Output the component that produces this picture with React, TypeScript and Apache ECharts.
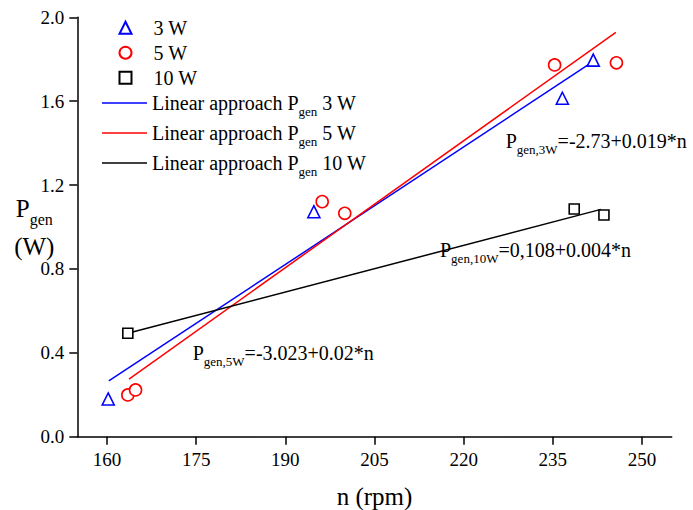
import React, { useEffect, useRef } from 'react';
import * as echarts from 'echarts';

const FONT = 'Liberation Serif, Times New Roman, serif';

// Axis ticks
const xTicks = [160, 175, 190, 205, 220, 235, 250];

// Measured points
const n3W = [160.2, 194.8, 236.6, 241.8];
const p3W = [0.18, 1.073, 1.614, 1.796];
const n5W = [163.5, 164.8, 196.2, 200.0, 235.3, 245.7];
const p5W = [0.199, 0.223, 1.121, 1.065, 1.773, 1.783];
const n10W = [163.5, 238.6, 243.6];
const p10W = [0.493, 1.086, 1.057];

// Linear approach line end points
const fit3Wn = [160.3, 241.3];
const fit3Wp = [0.266, 1.78];
const fit5Wn = [163.7, 245.6];
const fit5Wp = [0.275, 1.928];
const fit10Wn = [163.5, 243.1];
const fit10Wp = [0.493, 1.084];

const pointNames = ['3 W', '5 W', '10 W'];
const lineLabels = ['3 W', '5 W', '10 W'];
const lineNames = lineLabels.map((l) => 'Linear approach Pgen ' + l);

const zip = (a: number[], b: number[]) => a.map((v, i) => [v, b[i]]);

const BLUE = '#0000ff';
const RED = '#ff0000';
const BLACK = '#000000';

function richFor(color: string, main: number, sub: number, lh: number, slh: number) {
  return {
    a: { fontFamily: FONT, fontSize: main, lineHeight: lh, color },
    s: { fontFamily: FONT, fontSize: sub, lineHeight: slh, verticalAlign: 'bottom', color },
  };
}

export default function App() {
  const ref = useRef<HTMLDivElement>(null);
  useEffect(() => {
    const chart = echarts.init(ref.current!, null, { renderer: 'svg' });
    const scatterBase = (name: string, symbol: string, size: number, color: string, n: number[], p: number[]) => ({
      name,
      type: 'scatter',
      data: zip(n, p),
      symbol,
      symbolSize: size,
      symbolKeepAspect: true,
      z: 5,
      itemStyle: { color: '#ffffff', borderColor: color, borderWidth: 1.6, opacity: 1 },
      emphasis: { disabled: true },
    });
    const lineBase = (name: string, color: string, n: number[], p: number[]) => ({
      name,
      type: 'line',
      data: zip(n, p),
      symbol: 'none',
      showSymbol: false,
      z: 2,
      itemStyle: { color },
      lineStyle: { color, width: 1.5 },
      emphasis: { disabled: true },
    });
    const annot = (x: number, y: number, color: string, sub: string, rest: string) => ({
      type: 'text',
      x,
      y,
      z: 10,
      style: {
        text: `{a|P}{s|${sub}}{a|${rest}}`,
        rich: richFor(color, 20, 13, 30, 18),
        verticalAlign: 'middle',
        align: 'left',
      },
    });
    const option: any = {
      animation: false,
      backgroundColor: '#ffffff',
      textStyle: { fontFamily: FONT },
      grid: { left: 77.3, right: 21.3, top: 17.3, bottom: 73.3, containLabel: false, outerBoundsMode: 'none' },
      xAxis: {
        type: 'value',
        min: 155,
        max: 255,
        name: 'n (rpm)',
        nameLocation: 'middle',
        nameGap: 47,
        nameMoveOverlap: false,
        nameTextStyle: { fontFamily: FONT, fontSize: 25, color: BLACK },
        axisLine: { show: true, lineStyle: { color: BLACK, width: 1.5 } },
        axisTick: { show: true, length: 8, inside: false, customValues: xTicks, lineStyle: { color: BLACK, width: 1.5 } },
        axisLabel: { customValues: xTicks, margin: 13, fontFamily: FONT, fontSize: 19, color: BLACK },
        splitLine: { show: false },
      },
      yAxis: {
        type: 'value',
        min: 0,
        max: 2,
        interval: 0.4,
        name: '{p|P}{s|gen}\n{p|(W)}',
        nameLocation: 'middle',
        nameRotate: 0,
        nameGap: 43,
        nameMoveOverlap: false,
        nameTextStyle: {
          align: 'center',
          verticalAlign: 'middle',
          rich: {
            p: { fontFamily: FONT, fontSize: 25, lineHeight: 38, color: BLACK },
            s: { fontFamily: FONT, fontSize: 16, lineHeight: 20, verticalAlign: 'bottom', color: BLACK },
          },
        },
        axisLine: { show: true, lineStyle: { color: BLACK, width: 1.5 } },
        axisTick: { show: true, length: 8, inside: false, lineStyle: { color: BLACK, width: 1.5 } },
        axisLabel: { margin: 13, fontFamily: FONT, fontSize: 19, color: BLACK, formatter: (v: number) => v.toFixed(1) },
        splitLine: { show: false },
      },
      legend: [
        {
          data: pointNames,
          orient: 'vertical',
          left: 118.5,
          top: 15.2,
          padding: 0,
          itemGap: 0,
          itemWidth: 12,
          itemHeight: 12,
          symbolKeepAspect: true,
          selectedMode: false,
          textStyle: { fontFamily: FONT, fontSize: 20, lineHeight: 25, color: BLACK, padding: [0, 0, 0, 17] },
        },
        {
          data: lineNames.map((name) => ({ name, icon: 'rect' })),
          orient: 'vertical',
          left: 102,
          top: 93,
          padding: 0,
          itemGap: 5,
          itemWidth: 45,
          itemHeight: 1.6,
          selectedMode: false,
          formatter: (name: string) => {
            const i = lineNames.indexOf(name);
            return `{a|Linear approach P}{s|gen}{a| ${lineLabels[i]}}`;
          },
          textStyle: { rich: richFor(BLACK, 20, 13, 30, 18) },
        },
      ],
      series: [
        scatterBase(pointNames[0], 'triangle', 12, BLUE, n3W, p3W),
        scatterBase(pointNames[1], 'circle', 12, RED, n5W, p5W),
        scatterBase(pointNames[2], 'rect', 10, BLACK, n10W, p10W),
        lineBase(lineNames[0], BLUE, fit3Wn, fit3Wp),
        lineBase(lineNames[1], RED, fit5Wn, fit5Wp),
        lineBase(lineNames[2], BLACK, fit10Wn, fit10Wp),
      ],
      graphic: [
        annot(505.7, 141, BLUE, 'gen,3W', '=-2.73+0.019*n'),
        annot(192.7, 353.3, RED, 'gen,5W', '=-3.023+0.02*n'),
        annot(440, 250, BLACK, 'gen,10W', '=0,108+0.004*n'),
      ],
    };
    chart.setOption(option);
    return () => chart.dispose();
  }, []);
  return <div ref={ref} style={{ position: 'fixed', left: 0, top: 0, width: 693, height: 510 }} />;
}
